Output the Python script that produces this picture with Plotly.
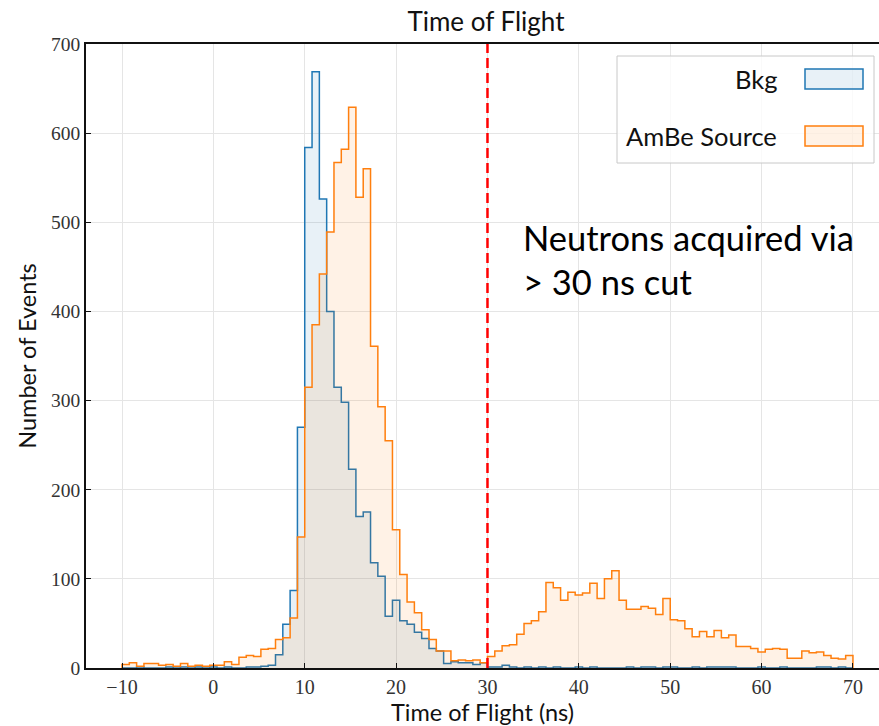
import numpy as np
import plotly.graph_objects as go

# ---------------- data ----------------
bin_start = -10.0
bin_width = 0.8
n_bins = 100

bkg_counts = [
    0, 0, 1, 0, 0, 0, 1, 0, 1, 0,
    1, 0, 1, 0, 1, 0, 0, 1, 1, 2,
    3, 15, 49, 87, 270, 584, 669, 526, 400, 315,
    298, 223, 170, 175, 118, 103, 58, 76, 53, 49,
    40, 33, 22, 19, 5, 7, 6, 6, 4, 6,
    1, 1, 3, 1, 0, 1, 0, 1, 0, 1,
    0, 0, 1, 0, 1, 0, 0, 0, 0, 1,
    0, 1, 1, 0, 1, 1, 0, 0, 1, 0,
    1, 1, 1, 1, 0, 0, 0, 1, 0, 0,
    1, 0, 0, 0, 0, 1, 1, 0, 1, 0,
]

ambe_counts = [
    4, 6, 2, 5, 5, 3, 4, 2, 5, 2,
    3, 2, 3, 3, 7, 4, 12, 14, 13, 21,
    22, 32, 34, 56, 147, 315, 385, 442, 489, 567,
    582, 629, 528, 560, 361, 293, 255, 155, 105, 74,
    62, 43, 32, 19, 19, 8, 9, 8, 9, 6,
    13, 19, 25, 26, 38, 50, 53, 63, 96, 90,
    76, 85, 82, 84, 95, 78, 100, 109, 76, 66,
    66, 69, 67, 60, 78, 54, 53, 44, 35, 41,
    35, 42, 34, 37, 24, 24, 22, 18, 21, 22,
    21, 11, 11, 19, 17, 18, 14, 11, 10, 14,
]

series_names = ["Bkg", "AmBe Source"]
x_ticks = [-10, 0, 10, 20, 30, 40, 50, 60, 70]
y_ticks = [0, 100, 200, 300, 400, 500, 600, 700]
cut_value = 30
note_lines = ["Neutrons acquired via", "> 30 ns cut"]

# ---------------- styling ----------------
W, H = 879, 726
ML, MR, MT, MB = 86, 0, 44, 58
PW = W - ML - MR
PH = H - MT - MB

BLUE = "#1f77b4"
ORANGE = "#ff7f0e"
BLUE_FILL = "rgba(31,119,180,0.1)"
ORANGE_FILL = "rgba(255,127,14,0.1)"

edges = np.round(bin_start + bin_width * np.arange(n_bins + 1), 3)


def step_xy(counts):
    xs = [edges[0]] + list(edges[:-1]) + [edges[-1], edges[-1]]
    ys = [0] + list(counts) + [counts[-1], 0]
    return xs, ys


fig = go.Figure()
for counts, name, lc, fc in [
    (bkg_counts, series_names[0], BLUE, BLUE_FILL),
    (ambe_counts, series_names[1], ORANGE, ORANGE_FILL),
]:
    xs, ys = step_xy(counts)
    fig.add_trace(go.Scatter(
        x=xs, y=ys, mode="lines", name=name,
        line=dict(color=lc, width=1.5, shape="hv"),
        fill="tozeroy", fillcolor=fc, showlegend=False,
        hoverinfo="skip",
    ))

# cut line
fig.add_shape(type="line", xref="x", yref="y", x0=cut_value, x1=cut_value,
              y0=0, y1=700, line=dict(color="#ff0000", width=2.5, dash="10px,5px"),
              layer="above")


def px_x(X):
    return (X - ML) / PW


def px_y(Y):
    return (H - MB - Y) / PH


# manual legend (text left, patch right)
label_font = "Lato"
fig.add_shape(type="rect", xref="paper", yref="paper",
              x0=px_x(617), x1=px_x(874), y0=px_y(163), y1=px_y(56),
              line=dict(color="#c8c8c8", width=1), fillcolor="rgba(255,255,255,0.8)",
              layer="above")
for name, lc, fc, yc in [
    (series_names[0], BLUE, BLUE_FILL, 79),
    (series_names[1], ORANGE, ORANGE_FILL, 136),
]:
    fig.add_shape(type="rect", xref="paper", yref="paper",
                  x0=px_x(805), x1=px_x(863), y0=px_y(yc + 10), y1=px_y(yc - 10),
                  line=dict(color=lc, width=1.5), fillcolor=fc, layer="above")
    fig.add_annotation(xref="paper", yref="paper", x=px_x(779), y=px_y(yc),
                       xanchor="right", yanchor="middle", showarrow=False,
                       text=name, font=dict(family=label_font, size=25.5, color="#111111"))

# note text
for i, line in enumerate(note_lines):
    fig.add_annotation(xref="paper", yref="paper", x=px_x(521), y=px_y(237 + 44 * i),
                       xanchor="left", yanchor="middle", showarrow=False,
                       text=line, font=dict(family="Lato", size=34.5, color="#000000"))

fig.update_layout(
    width=W, height=H,
    margin=dict(l=ML, r=MR, t=MT, b=MB, pad=0),
    paper_bgcolor="white", plot_bgcolor="white",
    title=dict(text="Time of Flight", x=px_x(486), xref="paper", xanchor="center",
               y=1 - 22 / H, yref="container", yanchor="middle",
               font=dict(family=label_font, size=26, color="#111111")),
    showlegend=False,
)

fig.update_xaxes(
    range=[-13.94, 72.85], tickvals=x_ticks,
    showgrid=True, gridcolor="#e5e5e5", gridwidth=1, zeroline=False,
    showline=True, linecolor="#111111", linewidth=1.5, mirror=True,
    ticks="inside", ticklen=5, tickcolor="#111111",
    tickfont=dict(family="Liberation Serif", size=20, color="#333333"),
    title=dict(text="Time of Flight (ns)", standoff=4,
               font=dict(family=label_font, size=23.5, color="#111111")),
)
fig.update_yaxes(
    range=[0, 700], tickvals=y_ticks,
    showgrid=True, gridcolor="#e5e5e5", gridwidth=1, zeroline=False,
    showline=True, linecolor="#111111", linewidth=1.5, mirror=False,
    ticks="inside", ticklen=5, tickcolor="#111111",
    tickfont=dict(family="Liberation Serif", size=19.5, color="#333333"),
    title=dict(text="Number of Events", standoff=8,
               font=dict(family=label_font, size=23.5, color="#111111")),
)

fig.write_html("out.html")
